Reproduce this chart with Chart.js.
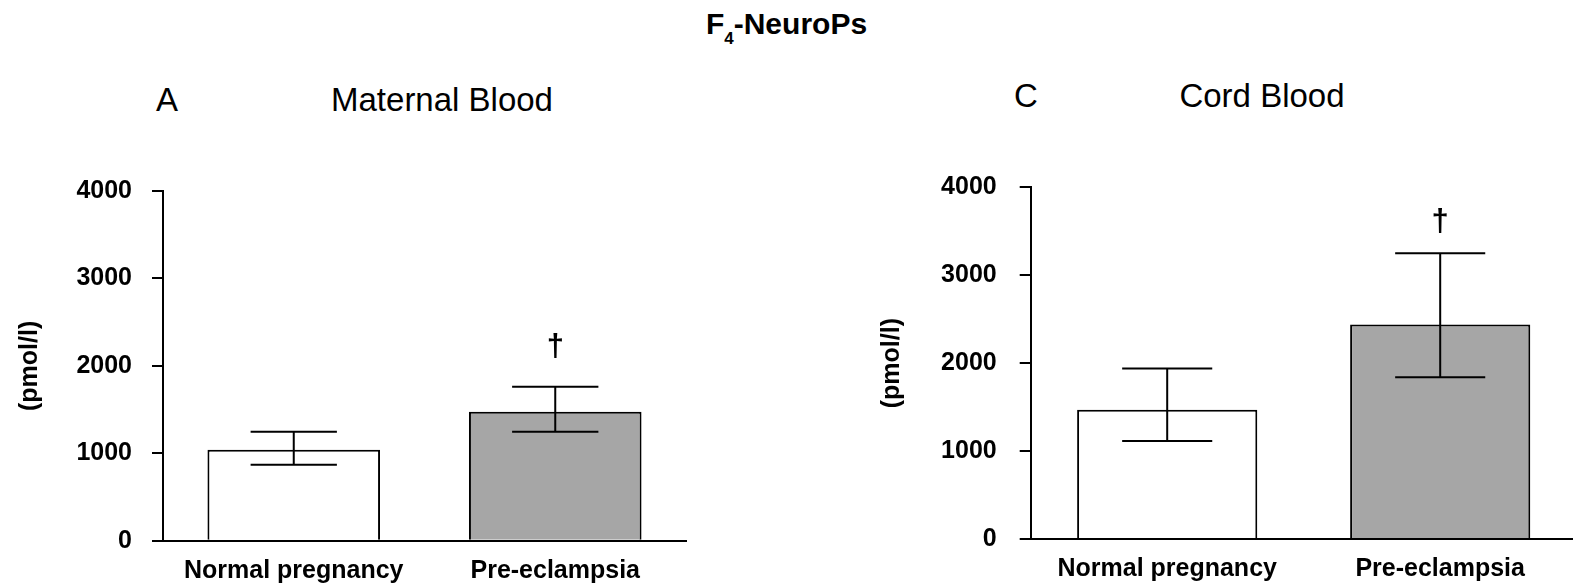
<!DOCTYPE html>
<html>
<head>
<meta charset="utf-8">
<title>F4-NeuroPs</title>
<script src="https://cdn.jsdelivr.net/npm/chart.js@4.4.0/dist/chart.umd.min.js"></script>
<style>
  html, body { margin: 0; padding: 0; background: #fff; overflow: hidden; width: 1573px; height: 585px; }
  .txt { position: absolute; font-family: "Liberation Sans", Arial, sans-serif; color: #000; white-space: nowrap; }
  .panel { position: absolute; top: 0; width: 720px; height: 585px; }
</style>
</head>
<body>

<div class="txt" style="left:0;width:1573px;top:9px;text-align:center;font-size:30px;line-height:29px;font-weight:bold;">F<span style="font-size:17px;position:relative;top:10px;">4</span>-NeuroPs</div>

<div class="txt" style="left:156px;top:83px;font-size:33px;line-height:33px;">A</div>
<div class="txt" style="left:242px;width:400px;top:83px;text-align:center;font-size:33px;line-height:33px;">Maternal Blood</div>
<div class="txt" style="left:1014px;top:79px;font-size:33px;line-height:33px;">C</div>
<div class="txt" style="left:1062px;width:400px;top:79px;text-align:center;font-size:33px;line-height:33px;">Cord Blood</div>

<div class="panel" style="left:0;"><canvas id="chartA" width="720" height="585"></canvas></div>
<div class="panel" style="left:860px;"><canvas id="chartC" width="720" height="585"></canvas></div>

<script>
'use strict';

// values (pmol/l)
var groups = ['Normal pregnancy', 'Pre-eclampsia'];
var yTicks = [0, 1000, 2000, 3000, 4000];
var barColours = ['#ffffff', '#a6a6a6'];

var maternalMeans = [1040, 1475];
var maternalUpper = [1245, 1760];
var maternalLower = [870, 1245];
var maternalMarks = [null, 2215];   // dagger height

var cordMeans = [1470, 2440];
var cordUpper = [1940, 3250];
var cordLower = [1115, 1840];
var cordMarks = [null, 3600];

Chart.defaults.font.family = '"Liberation Sans", Arial, sans-serif';
Chart.defaults.color = '#000';

var boldFont = { size: 25, weight: 'bold' };

// error bars + significance dagger, drawn through the y scale
var errorBars = {
  id: 'errorBars',
  afterDatasetsDraw: function (chart) {
    var ctx = chart.ctx;
    var ds = chart.data.datasets[0];
    var y = chart.scales.y;
    var meta = chart.getDatasetMeta(0);
    ctx.save();
    ctx.strokeStyle = '#000';
    ctx.lineWidth = 2;
    meta.data.forEach(function (bar, i) {
      var half = bar.width / 4;
      var top = y.getPixelForValue(ds.upper[i]);
      var bottom = y.getPixelForValue(ds.lower[i]);
      ctx.beginPath();
      ctx.moveTo(bar.x, top);
      ctx.lineTo(bar.x, bottom);
      ctx.moveTo(bar.x - half, top);
      ctx.lineTo(bar.x + half, top);
      ctx.moveTo(bar.x - half, bottom);
      ctx.lineTo(bar.x + half, bottom);
      ctx.stroke();
      if (ds.marks[i] != null) {
        ctx.fillStyle = '#000';
        ctx.font = 'bold 31px "Liberation Sans", Arial, sans-serif';
        ctx.textAlign = 'center';
        ctx.textBaseline = 'middle';
        ctx.fillText('\u2020', bar.x, y.getPixelForValue(ds.marks[i]));
      }
    });
    ctx.restore();
  }
};

var makeChart = function (id, means, upper, lower, marks, box) {
  var ctx = document.getElementById(id).getContext('2d');
  return new Chart(ctx, {
    type: 'bar',
    data: {
      labels: groups,
      datasets: [{
        data: means,
        upper: upper,
        lower: lower,
        marks: marks,
        backgroundColor: barColours,
        borderColor: '#000',
        borderWidth: 2,
        barPercentage: 0.66,
        categoryPercentage: 1
      }]
    },
    options: {
      responsive: false,
      animation: false,
      devicePixelRatio: 1,
      layout: { padding: { top: box.top, right: box.right, left: 0, bottom: 0 } },
      plugins: { legend: { display: false }, tooltip: { enabled: false } },
      scales: {
        x: {
          grid: { display: false },
          border: { display: true, color: '#000', width: 2 },
          ticks: { color: '#000', font: boldFont, padding: 7, maxRotation: 0 },
          afterFit: function (s) { s.height = 585 - box.bottom; }
        },
        y: {
          min: 0,
          max: 4000,
          afterBuildTicks: function (s) {
            s.ticks = yTicks.map(function (v) { return { value: v }; });
          },
          grid: { drawOnChartArea: false, drawTicks: true, tickLength: 11, color: '#000', lineWidth: 2 },
          border: { display: true, color: '#000', width: 2 },
          ticks: {
            color: '#000',
            font: boldFont,
            padding: box.tickPad,
            callback: function (v) { return String(v); }
          },
          title: { display: true, text: '(pmol/l)', color: '#000', font: boldFont, padding: { top: box.titlePad, bottom: 0 } },
          afterFit: function (s) { s.width = box.left; }
        }
      }
    },
    plugins: [errorBars]
  });
};

makeChart('chartA', maternalMeans, maternalUpper, maternalLower, maternalMarks,
  { left: 163, right: 34, top: 191, bottom: 540.7, tickPad: 20, titlePad: 15 });
makeChart('chartC', cordMeans, cordUpper, cordLower, cordMarks,
  { left: 170.7, right: 3.3, top: 187.3, bottom: 539, tickPad: 23, titlePad: 17 });
</script>
</body>
</html>
